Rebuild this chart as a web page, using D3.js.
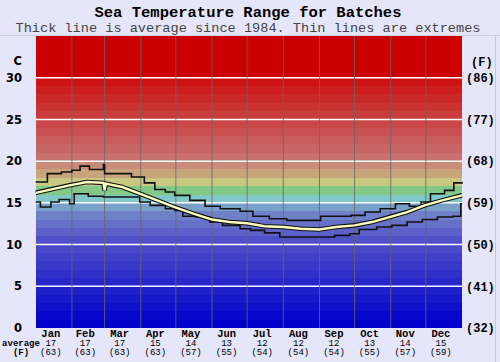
<!DOCTYPE html>
<html>
<head>
<meta charset="utf-8">
<script src="https://cdn.jsdelivr.net/npm/d3@7"></script>
<style>
body { margin: 0; background: #e6e6fa; }
svg { display: block; }
</style>
</head>
<body>
<svg id="chart" width="500" height="362"></svg>
<script>
// month names and long-term monthly averages
const months = ["Jan","Feb","Mar","Apr","May","Jun","Jul","Aug","Sep","Oct","Nov","Dec"];
const monthDays = [31,28,31,30,31,30,31,31,30,31,30,31];
const avgC = [17,17,17,15,14,13,12,12,12,13,14,15];
const avgF = [63,63,63,63,57,55,54,54,54,55,57,59];

// daily curves (day of year, deg C)
const avgDays  = [0,29,44,58,59,60,74,89,104,119,135,151,166,181,196,212,227,243,257,273,288,303,318,333,348,365];
const avgTemps = [16.2,17.1,17.5,17.4,16.5,17.3,16.9,16.1,15.3,14.5,13.7,13.0,12.7,12.55,12.2,12.1,11.9,11.8,12.1,12.3,12.7,13.3,13.9,14.7,15.3,15.9];

const maxDays  = [0,10,22,31,38,46,58,59,82,93,102,111,119,132,145,158,175,186,200,215,244,270,282,295,308,320,330,338,350,358,365];
const maxTemps = [17.5,18.5,18.7,18.9,19.4,19.0,19.6,18.5,18.1,17.4,16.6,16.3,15.9,15.3,14.6,14.3,14.0,13.4,13.1,12.9,13.4,13.5,13.9,14.3,14.9,14.6,15.1,16.1,16.5,17.4,17.5];

const minDays  = [0,4,13,20,29,33,45,58,89,98,111,119,126,137,149,160,175,184,196,209,256,269,277,292,305,318,331,344,357,364,365];
const minTemps = [15.1,14.5,15.1,15.4,14.9,16.1,15.8,15.7,15.1,14.7,14.3,14.1,13.4,13.3,12.7,12.3,11.9,11.7,11.4,10.9,11.1,11.3,11.8,12.1,12.3,12.7,13.0,13.3,13.4,14.9,14.9];

const cTicks = [0,5,10,15,20,25,30];
const fTicks = ["(32)","(41)","(50)","(59)","(68)","(77)","(86)"];

const svg = d3.select("#chart");
const W = 500, H = 362;
const pL = 35.7, pR = 462, pT = 36, pB = 328;

const x = d3.scaleLinear().domain([0, 365]).range([pL, pR]);
const y = d3.scaleLinear().domain([0, 35]).range([pB, pT]);

svg.append("rect").attr("width", W).attr("height", H).attr("fill", "#e6e6fa");

// faint frame lines
svg.append("line").attr("x1", 0).attr("x2", W).attr("y1", 35.5).attr("y2", 35.5)
    .attr("stroke", "#d0d0e4");
svg.append("line").attr("x1", 495.5).attr("x2", 495.5).attr("y1", 35).attr("y2", H)
    .attr("stroke", "#c8c8dc");

// temperature colour bands
const bandColor = d3.scaleLinear()
    .domain([0, 9, 10, 11, 12, 13, 14, 15, 16, 17, 18, 19, 20, 29, 30, 35])
    .range(["#0000cc","#4848c8","#5050c8","#5c60c8","#6670c8","#6e80c8","#78a0c8","#80c8c8","#84c888","#c8c880","#c8a47c","#c88c78","#c87070","#cc1414","#cc0000","#cc0000"]);

svg.append("g").selectAll("rect")
    .data(d3.range(0, 35))
    .join("rect")
    .attr("x", pL)
    .attr("width", pR - pL)
    .attr("y", d => y(d + 1))
    .attr("height", d => y(d) - y(d + 1))
    .attr("fill", d => bandColor(d))
    .attr("shape-rendering", "crispEdges");

// horizontal grid
svg.append("g").selectAll("line")
    .data(cTicks.slice(1))
    .join("line")
    .attr("x1", pL).attr("x2", pR)
    .attr("y1", d => y(d)).attr("y2", d => y(d))
    .attr("stroke", "#fff").attr("stroke-width", 1.5);

// month boundaries
const starts = Array.from(d3.cumsum([0].concat(monthDays.slice(0, -1))));
svg.append("g").selectAll("line")
    .data(starts.slice(1))
    .join("line")
    .attr("x1", d => x(d)).attr("x2", d => x(d))
    .attr("y1", pT).attr("y2", pB)
    .attr("stroke", "#666").attr("stroke-opacity", 0.8).attr("stroke-width", 1);

// extremes
const stepLine = d3.line().x(d => x(d[0])).y(d => y(d[1])).curve(d3.curveStepAfter);
[[maxDays, maxTemps], [minDays, minTemps]].forEach(([ds, ts]) => {
    svg.append("path")
        .attr("d", stepLine(ds.map((d, i) => [d, ts[i]])))
        .attr("fill", "none").attr("stroke", "#111").attr("stroke-width", 1.6);
});

// average
const avgLine = d3.line().x(d => x(d[0])).y(d => y(d[1]));
const avgPts = avgDays.map((d, i) => [d, avgTemps[i]]);
svg.append("path").attr("d", avgLine(avgPts))
    .attr("fill", "none").attr("stroke", "#111").attr("stroke-width", 4.6);
svg.append("path").attr("d", avgLine(avgPts))
    .attr("fill", "none").attr("stroke", "#ffffc0").attr("stroke-width", 2.4);

// titles
svg.append("text").attr("x", 248).attr("y", 16.5).attr("text-anchor", "middle")
    .attr("font-family", "Liberation Mono, monospace").attr("font-weight", "bold").attr("font-size", 15.5)
    .text("Sea Temperature Range for Batches");
svg.append("text").attr("x", 248).attr("y", 32).attr("text-anchor", "middle")
    .attr("font-family", "Liberation Mono, monospace").attr("font-size", 13.6).attr("fill", "#444")
    .text("Thick line is average since 1984. Thin lines are extremes");

// left axis (C)
const lg = svg.append("g").attr("font-family", "DejaVu Sans, sans-serif").attr("font-weight", "bold")
    .attr("font-size", 11.5).attr("text-anchor", "end");
lg.selectAll("text").data(cTicks).join("text")
    .attr("x", 22).attr("y", d => y(d)).attr("dy", "0.36em").text(d => d);
lg.append("text").attr("x", 22).attr("y", 61).attr("dy", "0.36em").text("C");

// right axis (F)
const rg = svg.append("g").attr("font-family", "Liberation Mono, monospace").attr("font-weight", "bold")
    .attr("font-size", 12).attr("text-anchor", "start");
rg.selectAll("text").data(fTicks).join("text")
    .attr("x", 466).attr("y", (d, i) => y(cTicks[i])).attr("dy", "0.36em").text(d => d);
rg.append("text").attr("x", 471).attr("y", 62).attr("dy", "0.36em").text("(F)");

// month labels
const mg = svg.append("g").attr("font-family", "Liberation Mono, monospace").attr("text-anchor", "middle");
months.forEach((m, i) => {
    const cx = x(starts[i] + monthDays[i] / 2) - 3;
    mg.append("text").attr("x", cx).attr("y", 337).attr("font-weight", "bold").attr("font-size", 10.5).text(m);
    mg.append("text").attr("x", cx).attr("y", 346).attr("font-size", 9).text(avgC[i]);
    mg.append("text").attr("x", cx).attr("y", 355).attr("font-size", 9).text("(" + avgF[i] + ")");
});
mg.append("text").attr("x", 21).attr("y", 346).attr("font-weight", "bold").attr("font-size", 9).text("average");
mg.append("text").attr("x", 21).attr("y", 355).attr("font-weight", "bold").attr("font-size", 9).text("(F)");
</script>
</body>
</html>
